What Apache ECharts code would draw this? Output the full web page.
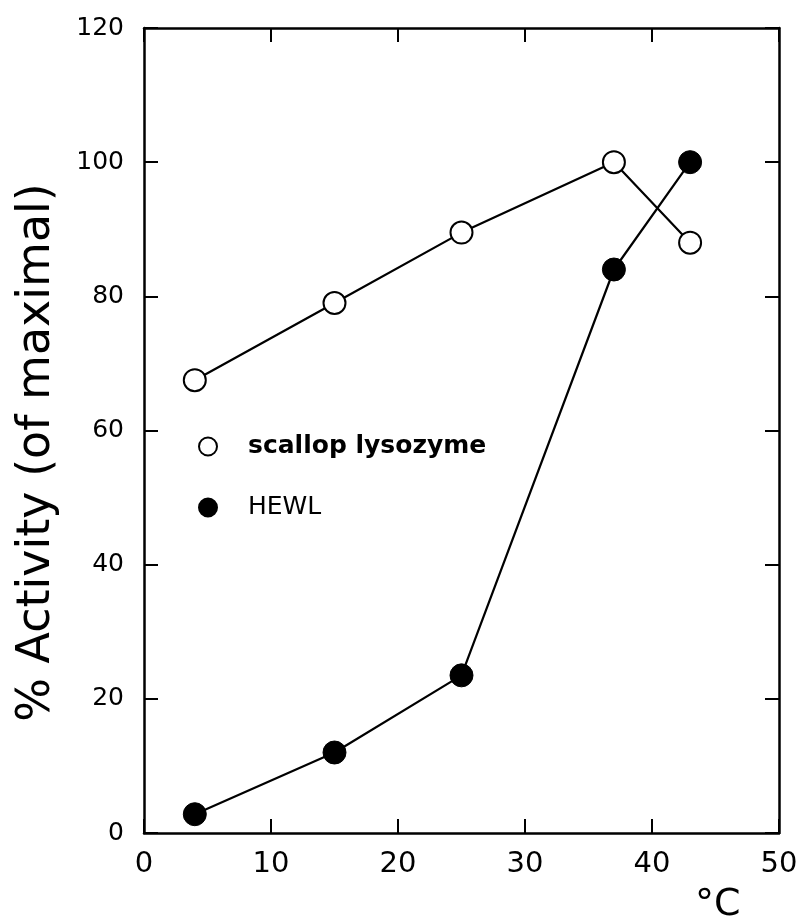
<!DOCTYPE html>
<html>
<head>
<meta charset="utf-8">
<script src="https://cdn.jsdelivr.net/npm/echarts@6/dist/echarts.min.js"></script>
<style>
  html, body { margin: 0; padding: 0; background: #fff; }
  #main { width: 801px; height: 924px; }
</style>
</head>
<body>
<div id="main"></div>
<script>
// temperature (°C) vs % activity
var temps = [4, 15, 25, 37, 43];
var scallop = [67.5, 79, 89.5, 100, 88];
var hewl = [2.8, 12, 23.5, 84, 100];
var xTicks = [0, 10, 20, 30, 40, 50];
var yTicks = [0, 20, 40, 60, 80, 100, 120];

var FONT = 'DejaVu Sans';
var chart = echarts.init(document.getElementById('main'));

function pairs(xs, ys) {
  return xs.map(function (x, i) { return [x, ys[i]]; });
}

var lineStyle = { color: '#000', width: 2.5 };
var tick = { show: true, inside: true, length: 14, lineStyle: { color: '#000', width: 2 } };

var option = {
  backgroundColor: '#fff',
  animation: false,
  grid: { left: 144, right: 22, top: 28, bottom: 88 },
  legend: {
    orient: 'vertical',
    left: 193,
    top: 429,
    itemWidth: 18,
    itemHeight: 18,
    itemGap: 36,
    icon: 'circle',
    data: [
      { name: 'scallop lysozyme', textStyle: { fontWeight: 'bold' } },
      { name: 'HEWL' }
    ],
    textStyle: { fontFamily: FONT, fontSize: 25, color: '#000', padding: [0, 0, 0, 26] }
  },
  xAxis: [{
    type: 'value', min: 0, max: 50, interval: 10,
    axisLine: { show: true, onZero: false, lineStyle: lineStyle },
    axisTick: tick,
    splitLine: { show: false },
    axisLabel: { fontFamily: FONT, fontSize: 29, color: '#000', margin: 17,
      formatter: function (v) { return xTicks.indexOf(v) >= 0 ? v : ''; } },
    name: '°C',
    nameLocation: 'end',
    nameGap: -84,
    nameTextStyle: { fontFamily: FONT, fontSize: 38, color: '#000', verticalAlign: 'top', align: 'left', padding: [53, 0, 0, 0] }
  }, {
    type: 'value', position: 'top', min: 0, max: 50, interval: 10,
    axisLine: { show: true, onZero: false, lineStyle: lineStyle },
    axisTick: tick, axisLabel: { show: false }, splitLine: { show: false }
  }],
  yAxis: [{
    type: 'value', min: 0, max: 120, interval: 20,
    axisLine: { show: true, onZero: false, lineStyle: lineStyle },
    axisTick: tick,
    splitLine: { show: false },
    axisLabel: { fontFamily: FONT, fontSize: 25, color: '#000', margin: 20,
      formatter: function (v) { return yTicks.indexOf(v) >= 0 ? v : ''; } },
    name: '% Activity (of maximal)',
    nameLocation: 'middle',
    nameGap: 84,
    nameTextStyle: { fontFamily: FONT, fontSize: 46, color: '#000', padding: [0, 44, 0, 0] }
  }, {
    type: 'value', position: 'right', min: 0, max: 120, interval: 20,
    axisLine: { show: true, onZero: false, lineStyle: lineStyle },
    axisTick: tick, axisLabel: { show: false }, splitLine: { show: false }
  }],
  series: [{
    name: 'scallop lysozyme',
    type: 'line',
    data: pairs(temps, scallop),
    symbol: 'circle',
    symbolSize: 22,
    lineStyle: { color: '#000', width: 2.2 },
    itemStyle: { color: '#fff', borderColor: '#000', borderWidth: 2 },
    z: 3
  }, {
    name: 'HEWL',
    type: 'line',
    data: pairs(temps, hewl),
    symbol: 'circle',
    symbolSize: 23,
    lineStyle: { color: '#000', width: 2.2 },
    itemStyle: { color: '#000', borderColor: '#000', borderWidth: 1 },
    z: 3
  }]
};

chart.setOption(option);
</script>
</body>
</html>
